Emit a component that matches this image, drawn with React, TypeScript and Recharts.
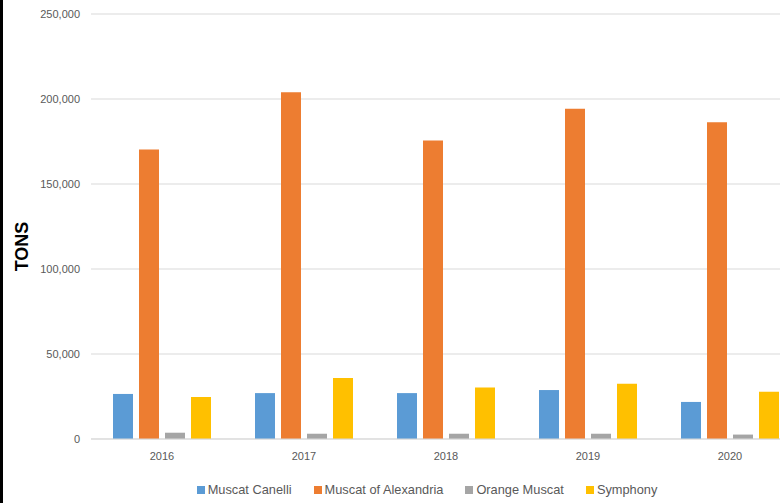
import * as React from 'react';
import { BarChart, Bar, XAxis, YAxis, CartesianGrid, Legend, Label } from 'recharts';

const years = ['2016', '2017', '2018', '2019', '2020'];
const muscatCanelli = [26500, 27000, 27000, 28800, 21800];
const muscatOfAlexandria = [170300, 204000, 175600, 194200, 186300];
const orangeMuscat = [3700, 3100, 3100, 3100, 2600];
const symphony = [24700, 35900, 30300, 32500, 27800];
const yTicks = [0, 50000, 100000, 150000, 200000, 250000];

const data = years.map((year, i) => ({
  year,
  canelli: muscatCanelli[i],
  alexandria: muscatOfAlexandria[i],
  orange: orangeMuscat[i],
  symphony: symphony[i],
}));

const font = '"Liberation Sans", Arial, sans-serif';
const textGray = '#595959';
const gridGray = '#d9d9d9';

const LegendContent = (props: any) => {
  const items = props.payload || [];
  return (
    <div style={{ width: '100%', textAlign: 'center', fontFamily: font, fontSize: 12.8, color: textGray, lineHeight: '20px' }}>
      {items.map((entry: any) => (
        <span key={entry.value} style={{ display: 'inline-flex', alignItems: 'center', margin: '0 11px' }}>
          <span style={{ display: 'inline-block', width: 8, height: 8, background: entry.color, marginRight: 3 }} />
          <span>{entry.value}</span>
        </span>
      ))}
    </div>
  );
};

const TonsLabel = (props: any) => {
  const vb = props.viewBox || {};
  const x = vb.x + 22;
  const y = vb.y + vb.height / 2 + 20;
  return (
    <text
      x={x}
      y={y}
      transform={`rotate(-90, ${x}, ${y})`}
      textAnchor="middle"
      dominantBaseline="central"
      style={{ fontFamily: font, fontSize: 18, fontWeight: 'bold', fill: '#000' }}
    >
      TONS
    </text>
  );
};

export default function App() {
  return (
    <div style={{ position: 'fixed', left: 0, top: 0, width: 780, height: 503, overflow: 'hidden', background: '#fff' }}>
      <BarChart
        width={830}
        height={503}
        data={data}
        margin={{ top: 14, right: 29, left: 0, bottom: 3 }}
        barSize={20}
        barGap={6}
      >
        <CartesianGrid vertical={false} stroke={gridGray} strokeWidth={1} />
        <XAxis
          dataKey="year"
          height={41}
          axisLine={{ stroke: gridGray }}
          tickLine={false}
          tickSize={0}
          tickMargin={13}
          tick={{ fill: textGray, fontSize: 11, fontFamily: font }}
        />
        <YAxis
          width={91}
          domain={[0, 250000]}
          ticks={yTicks}
          axisLine={false}
          tickLine={false}
          tickSize={0}
          tickMargin={11}
          tick={{ fill: textGray, fontSize: 11, fontFamily: font }}
          tickFormatter={(v: number) => v.toLocaleString('en-US')}
        >
          <Label content={<TonsLabel />} />
        </YAxis>
        <Legend
          verticalAlign="bottom"
          height={20}
          wrapperStyle={{ left: 0, width: 854 }}
          content={<LegendContent />}
        />
        <Bar dataKey="canelli" name="Muscat Canelli" fill="#5B9BD5" isAnimationActive={false} />
        <Bar dataKey="alexandria" name="Muscat of Alexandria" fill="#ED7D31" isAnimationActive={false} />
        <Bar dataKey="orange" name="Orange Muscat" fill="#A5A5A5" isAnimationActive={false} />
        <Bar dataKey="symphony" name="Symphony" fill="#FFC000" isAnimationActive={false} />
      </BarChart>
      <div style={{ position: 'absolute', left: 0, top: 0, width: 3, height: 503, background: '#000' }} />
    </div>
  );
}
